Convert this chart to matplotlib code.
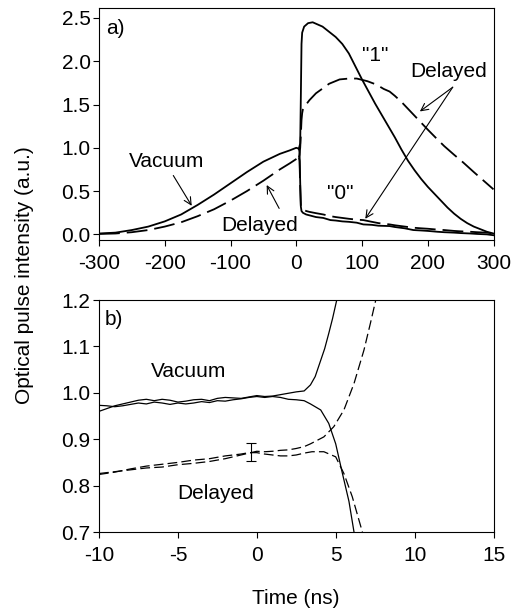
import matplotlib
matplotlib.use('Agg')
import matplotlib.pyplot as plt

plt.rcParams['font.family'] = ['Liberation Sans', 'DejaVu Sans']
plt.rcParams['lines.scale_dashes'] = False
plt.rcParams['axes.unicode_minus'] = False

# ---------------- Panel a data (time in ps) ----------------
ta_pre = [-300, -275, -250, -225, -200, -175, -150, -125, -100, -75, -50, -25, -10, 0, 4]
vac_pre = [0.01, 0.02, 0.05, 0.09, 0.15, 0.23, 0.34, 0.46, 0.59, 0.72, 0.84, 0.93, 0.97, 1.00, 0.99]
del_pre = [0.005, 0.01, 0.025, 0.05, 0.09, 0.14, 0.21, 0.29, 0.39, 0.50, 0.62, 0.75, 0.82, 0.87, 0.89]

ta_vac1 = [4, 6, 7, 8, 9, 12, 18, 25, 40, 50, 60, 70, 80, 90, 100, 110, 120, 130, 140, 150,
           160, 170, 180, 190, 200, 210, 220, 230, 240, 250, 260, 270, 280, 290, 300]
vac1 = [0.99, 1.05, 1.6, 2.2, 2.33, 2.40, 2.44, 2.45, 2.40, 2.34, 2.28, 2.20, 2.09, 1.94, 1.79,
        1.65, 1.51, 1.38, 1.25, 1.12, 0.98, 0.85, 0.74, 0.64, 0.55, 0.47, 0.39, 0.31, 0.24,
        0.18, 0.13, 0.09, 0.06, 0.03, 0.01]

ta_del1 = [4, 5, 6, 7, 8, 9, 10, 13, 20, 30, 41, 50, 66, 80, 92, 108, 122, 133, 142, 150, 160,
           170, 180, 190, 200, 213, 225, 240, 254, 270, 285, 300]
del1 = [0.89, 0.92, 1.0, 1.15, 1.32, 1.40, 1.44, 1.48, 1.55, 1.63, 1.69, 1.74, 1.79, 1.80, 1.80,
        1.77, 1.73, 1.68, 1.65, 1.60, 1.53, 1.45, 1.37, 1.29, 1.21, 1.11, 1.02, 0.92, 0.83,
        0.72, 0.62, 0.52]

ta_vac0 = [4, 5, 6, 7, 8, 10, 15, 20, 30, 41, 52, 60, 70, 80, 92, 102, 115, 125, 142, 150, 165,
           178, 190, 200, 215, 225, 240, 250, 265, 275, 290, 300]
vac0 = [0.99, 0.95, 0.6, 0.32, 0.27, 0.25, 0.23, 0.22, 0.20, 0.19, 0.165, 0.16, 0.15, 0.145,
        0.135, 0.115, 0.11, 0.10, 0.096, 0.085, 0.07, 0.05, 0.045, 0.04, 0.03, 0.025, 0.02,
        0.015, 0.01, 0.005, 0.0, -0.01]

ta_del0 = [4, 5, 6, 7, 8, 10, 15, 20, 30, 41, 52, 60, 70, 80, 92, 102, 115, 125, 142, 150, 165,
           178, 190, 200, 215, 225, 240, 250, 265, 275, 290, 300]
del0 = [0.89, 0.85, 0.55, 0.33, 0.30, 0.29, 0.27, 0.26, 0.245, 0.23, 0.21, 0.20, 0.19, 0.18,
        0.17, 0.165, 0.145, 0.13, 0.115, 0.105, 0.09, 0.077, 0.07, 0.065, 0.055, 0.05, 0.04,
        0.035, 0.03, 0.025, 0.02, 0.01]

xticks_a = [-300, -200, -100, 0, 100, 200, 300]
yticks_a = [0.0, 0.5, 1.0, 1.5, 2.0, 2.5]

# ---------------- Panel b data (time in ns) ----------------
tb_base = [-10, -9.5, -9, -8.5, -8, -7.5, -7, -6.5, -6, -5.5, -5, -4.5, -4, -3.5, -3, -2.5,
           -2, -1.5, -1, -0.5, 0, 0.5, 1, 1.5, 2, 2.5, 3]
tb_vac1 = tb_base + [3.4, 3.7, 4.05, 4.3, 4.56, 4.8, 5.0, 5.1]
vacb1 = [0.960, 0.966, 0.972, 0.976, 0.980, 0.984, 0.986, 0.983, 0.986, 0.984, 0.980, 0.982,
         0.985, 0.986, 0.983, 0.988, 0.990, 0.989, 0.988, 0.991, 0.994, 0.992, 0.993, 0.996,
         0.999, 1.002, 1.004, 1.017, 1.035, 1.07, 1.095, 1.128, 1.16, 1.19, 1.205]
tb_vac0 = tb_base + [3.4, 4.05, 4.56, 5.0, 5.4, 5.84, 6.16, 6.25]
vacb0 = [0.973, 0.972, 0.970, 0.972, 0.975, 0.978, 0.976, 0.980, 0.978, 0.975, 0.978, 0.976,
         0.978, 0.981, 0.979, 0.983, 0.982, 0.985, 0.987, 0.990, 0.992, 0.990, 0.992, 0.990,
         0.986, 0.985, 0.983, 0.976, 0.963, 0.934, 0.89, 0.83, 0.766, 0.70, 0.68]
tb_del1 = [-10, -9, -8, -7, -6, -5, -4, -3, -2, -1.5, -1, -0.5, 0, 0.5, 1, 1.5, 2, 2.5, 3,
           3.4, 4.25, 4.88, 5.52, 6.16, 6.79, 7.2, 7.54, 7.6]
delb1 = [0.826, 0.830, 0.834, 0.838, 0.840, 0.845, 0.848, 0.852, 0.858, 0.862, 0.866, 0.870,
         0.874, 0.873, 0.874, 0.876, 0.877, 0.880, 0.884, 0.89, 0.905, 0.927, 0.963, 1.02,
         1.092, 1.15, 1.2, 1.21]
tb_del0 = [-10, -9, -8, -7, -6, -5, -4, -3, -2, -1, -0.5, 0, 0.5, 1, 1.5, 2, 2.5, 3, 3.5,
           4.25, 5.0, 5.52, 6.05, 6.69, 6.8]
delb0 = [0.824, 0.829, 0.836, 0.842, 0.846, 0.850, 0.855, 0.858, 0.864, 0.868, 0.871, 0.871,
         0.868, 0.866, 0.864, 0.864, 0.866, 0.870, 0.873, 0.873, 0.862, 0.826, 0.776, 0.70, 0.69]

err_t = [-0.35]
err_y = [0.872]
err_e = [0.02]

xticks_b = [-10, -5, 0, 5, 10, 15]
yticks_b = [0.7, 0.8, 0.9, 1.0, 1.1, 1.2]

# ---------------- Figure ----------------
W, H = 525, 614
fig = plt.figure(figsize=(W / 100, H / 100), dpi=100)

def frac(l, t, r, b):
    return [l / W, 1 - b / H, (r - l) / W, (b - t) / H]

axa = fig.add_axes(frac(99, 8, 493.5, 240))
axb = fig.add_axes(frac(99, 300, 493.5, 532))

FS = 15
sol = dict(color='black', lw=1.3)
dsh_a = dict(color='black', lw=1.3, dashes=(15, 5))
sol_b = dict(color='black', lw=0.9)
dsh_b = dict(color='black', lw=0.9, dashes=(7, 3))

axa.plot(ta_pre, vac_pre, **sol)
axa.plot(ta_vac1, vac1, **sol)
axa.plot(ta_vac0, vac0, **sol)
axa.plot(ta_pre, del_pre, **dsh_a)
axa.plot(ta_del1, del1, **dsh_a)
axa.plot(ta_del0, del0, **dsh_a)

axa.set_xlim(-300, 300)
axa.set_ylim(-0.065, 2.615)
axa.set_xticks(xticks_a)
axa.set_yticks(yticks_a)
axa.set_yticklabels(['%.1f' % v for v in yticks_a])

arr = dict(arrowstyle='->', lw=0.8, color='black', shrinkA=0, shrinkB=0, mutation_scale=13)
axa.text(-275, 2.38, 'a)', fontsize=FS, ha='center', va='center')
axa.text(-197, 0.84, 'Vacuum', fontsize=FS, ha='center', va='center')
axa.annotate('', xy=(-159, 0.33), xytext=(-187, 0.68), arrowprops=arr)
axa.text(-55, 0.107, 'Delayed', fontsize=FS, ha='center', va='center')
axa.annotate('', xy=(-45, 0.57), xytext=(-26, 0.30), arrowprops=arr)
axa.text(120, 2.07, '"1"', fontsize=FS, ha='center', va='center')
axa.text(67, 0.47, '"0"', fontsize=FS, ha='center', va='center')
axa.text(231, 1.88, 'Delayed', fontsize=FS, ha='center', va='center')
axa.annotate('', xy=(188, 1.42), xytext=(238, 1.70), arrowprops=arr)
axa.annotate('', xy=(105, 0.18), xytext=(238, 1.70), arrowprops=arr)

axb.plot(tb_vac1, vacb1, **sol_b)
axb.plot(tb_vac0, vacb0, **sol_b)
axb.plot(tb_del1, delb1, **dsh_b)
axb.plot(tb_del0, delb0, **dsh_b)
axb.errorbar(err_t, err_y, yerr=err_e, fmt='none', ecolor='black', elinewidth=0.8,
             capsize=3.6, capthick=0.8)

axb.set_xlim(-10, 15)
axb.set_ylim(0.7, 1.2)
axb.set_xticks(xticks_b)
axb.set_yticks(yticks_b)
axb.set_yticklabels(['%.1f' % v for v in yticks_b])
axb.text(-9.07, 1.157, 'b)', fontsize=FS, ha='center', va='center')
axb.text(-4.31, 1.045, 'Vacuum', fontsize=FS, ha='center', va='center')
axb.text(-2.62, 0.784, 'Delayed', fontsize=FS, ha='center', va='center')
axb.set_xlabel('Time (ns)', fontsize=FS, labelpad=17)

for ax in (axa, axb):
    for s in ax.spines.values():
        s.set_linewidth(0.8)
    ax.tick_params(direction='out', length=4, width=0.8, labelsize=FS)
    ax.tick_params(axis='x', pad=6)
    ax.tick_params(axis='y', pad=2)

fig.text(25 / W, 1 - 275 / H, 'Optical pulse intensity (a.u.)', rotation=90,
         fontsize=FS, ha='center', va='center')

fig.savefig('out.png', dpi=100)
